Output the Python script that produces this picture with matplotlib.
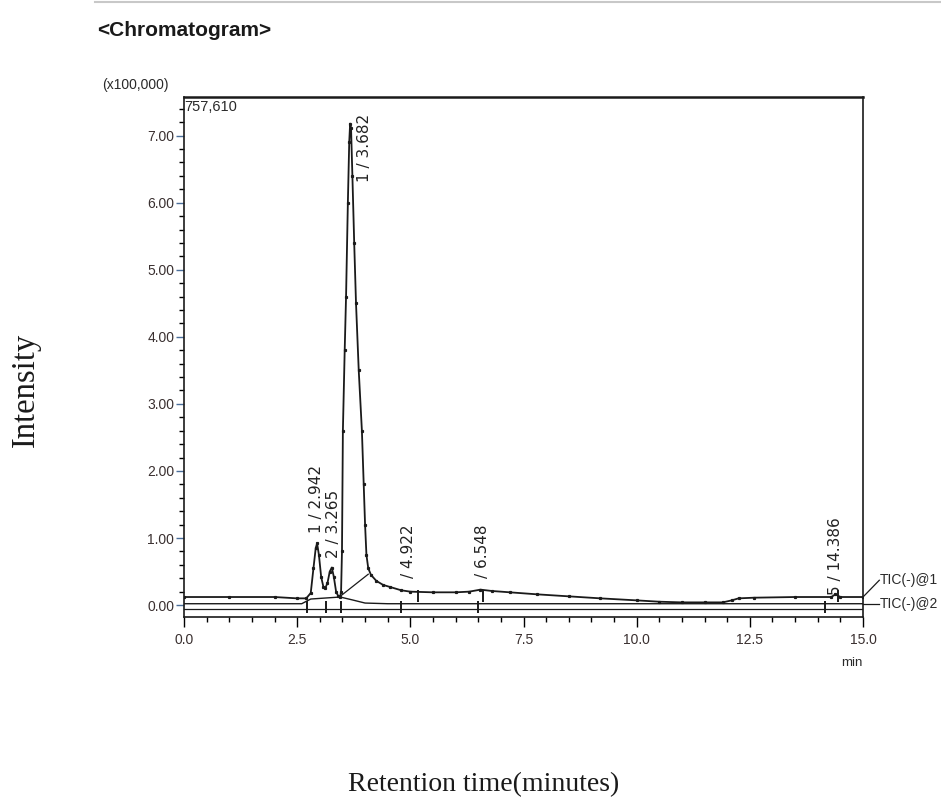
import matplotlib
matplotlib.use("Agg")
import matplotlib.pyplot as plt
from matplotlib.ticker import MultipleLocator, FixedLocator, FuncFormatter

# ---------------- data ----------------
tic1_time = [0.0, 1.0, 2.0, 2.5, 2.7, 2.8, 2.86, 2.91, 2.94, 2.98, 3.03, 3.08, 3.12,
             3.17, 3.22, 3.265, 3.31, 3.36, 3.41, 3.45, 3.47, 3.49, 3.51, 3.55, 3.58,
             3.62, 3.65, 3.67, 3.69, 3.72, 3.76, 3.80, 3.86, 3.93, 3.97, 4.00, 4.03,
             4.07, 4.13, 4.25, 4.40, 4.55, 4.80, 5.00, 5.50, 6.00, 6.30, 6.55, 6.80,
             7.20, 7.80, 8.50, 9.20, 10.0, 10.5, 11.0, 11.5, 11.9, 12.1, 12.25, 12.6,
             13.5, 14.3, 14.39, 14.5, 15.0]
tic1_int = [0.12, 0.12, 0.12, 0.10, 0.10, 0.18, 0.55, 0.85, 0.92, 0.75, 0.42, 0.27, 0.25,
            0.33, 0.50, 0.56, 0.42, 0.20, 0.13, 0.12, 0.20, 0.80, 2.60, 3.80, 4.60,
            6.00, 6.90, 7.18, 7.12, 6.40, 5.40, 4.50, 3.50, 2.60, 1.80, 1.20, 0.75,
            0.55, 0.45, 0.36, 0.30, 0.27, 0.22, 0.20, 0.19, 0.19, 0.20, 0.23, 0.21,
            0.19, 0.16, 0.13, 0.10, 0.07, 0.05, 0.04, 0.04, 0.04, 0.07, 0.10, 0.11,
            0.12, 0.12, 0.16, 0.12, 0.12]

tic2_time = [0.0, 2.6, 2.8, 3.45, 3.7, 4.0, 4.5, 15.0]
tic2_int = [0.02, 0.02, 0.09, 0.12, 0.08, 0.03, 0.02, 0.02]

zero_time = [0.0, 15.0]
zero_int = [-0.06, -0.06]

# integration baseline under main peak tail
base_time = [3.45, 4.07]
base_int = [0.13, 0.46]

# peak event marks (retention times)
event_low = [2.72, 3.13, 3.46, 4.80, 6.50, 14.16]
event_tic1 = [5.17, 6.60, 14.45]

peak_labels = ["1 / 2.942", "2 / 3.265", "1 / 3.682", "/ 4.922", "/ 6.548", "5 / 14.386"]
peak_label_x = [2.93, 3.31, 3.98, 4.95, 6.60, 14.40]
peak_label_y = [1.07, 0.70, 6.31, 0.40, 0.40, 0.15]

x_major = [0.0, 2.5, 5.0, 7.5, 10.0, 12.5, 15.0]
y_major = [0, 1, 2, 3, 4, 5, 6, 7]
y_max = 7.5761

# ---------------- figure ----------------
fig = plt.figure(figsize=(9.41, 8.02), dpi=100)
ax = fig.add_axes([184 / 941, 1 - 617 / 802, (863 - 184) / 941, (617 - 97) / 802])

narrow = ['Liberation Sans Narrow', 'Liberation Sans', 'DejaVu Sans']
sans = ['Liberation Sans', 'DejaVu Sans']
serif = ['Liberation Serif', 'DejaVu Serif']

lc = '#1a1a1a'
ax.plot(tic1_time, tic1_int, color=lc, lw=1.3, marker='s', ms=1.3, zorder=3)
ax.plot(tic2_time, tic2_int, color=lc, lw=1.0, zorder=3)
ax.plot(zero_time, zero_int, color=lc, lw=0.9, zorder=2)
ax.plot(base_time, base_int, color=lc, lw=0.9, zorder=2)
ax.vlines(event_low, -0.12, 0.06, color=lc, lw=1.4, zorder=4)
ax.vlines(event_tic1, 0.05, 0.22, color=lc, lw=1.4, zorder=4)

for lab, x, y in zip(peak_labels, peak_label_x, peak_label_y):
    ax.text(x, y, lab, rotation=90, ha='center', va='bottom', fontsize=11,
            family=['DejaVu Sans'], color='#222222', zorder=5)

ax.set_xlim(0, 15)
ax.set_ylim(-0.178, y_max)

ax.xaxis.set_major_locator(FixedLocator(x_major))
ax.xaxis.set_minor_locator(MultipleLocator(0.5))
ax.yaxis.set_major_locator(FixedLocator(y_major))
ax.yaxis.set_minor_locator(MultipleLocator(0.2))
ax.xaxis.set_major_formatter(FuncFormatter(lambda v, p: f"{v:.1f}"))
ax.yaxis.set_major_formatter(FuncFormatter(lambda v, p: f"{v:.2f}"))

ax.tick_params(axis='both', which='major', direction='out', width=1.0,
               labelsize=10, labelcolor='#3a3030')
ax.tick_params(axis='x', which='major', length=7.5, pad=4)
ax.tick_params(axis='y', which='major', color='#4a6e9a', length=6, pad=1)
ax.tick_params(axis='both', which='minor', direction='out', length=3.5, width=1.0)
for lbl in ax.get_xticklabels() + ax.get_yticklabels():
    lbl.set_family(narrow)

for s in ax.spines.values():
    s.set_linewidth(1.2)
    s.set_color('#1a1a1a')
ax.spines['top'].set_linewidth(1.8)

# texts inside / around axes
ax.text(0.005, 7.42, "757,610", ha='left', va='center', fontsize=10.5,
        family=narrow, color='#2a2a2a')
fig.text(102 / 941, 1 - 85 / 802, "(x100,000)", ha='left', va='center',
         fontsize=10, family=sans, color='#2a2a2a')
fig.text(852 / 941, 1 - 663 / 802, "min", ha='center', va='center',
         fontsize=9.5, family=sans, color='#2a2a2a')

# trace legends with leader lines
ax.plot([15.0, 15.36], [0.12, 0.37], color=lc, lw=0.9, clip_on=False)
ax.plot([15.0, 15.36], [0.02, 0.02], color=lc, lw=0.9, clip_on=False)
ax.text(15.37, 0.37, "TIC(-)@1", ha='left', va='center', fontsize=10,
        family=sans, color='#2a2a2a', clip_on=False)
ax.text(15.37, 0.02, "TIC(-)@2", ha='left', va='center', fontsize=10,
        family=sans, color='#2a2a2a', clip_on=False)

# title and axis titles
fig.text(97 / 941, 1 - 31 / 802, "<Chromatogram>", ha='left', va='center',
         fontsize=15, fontweight='bold', family=sans, color='#1a1a1a')
fig.text(26 / 941, 1 - 390 / 802, "Intensity", rotation=90, ha='center', va='center',
         fontsize=23.5, family=serif, color='#1a1a1a')
fig.text(484 / 941, 1 - 785 / 802, "Retention time(minutes)", ha='center', va='center',
         fontsize=20, family=serif, color='#1a1a1a')

# faint rule at the very top
fig.add_artist(plt.Line2D([95 / 941, 1.0], [1 - 1.5 / 802, 1 - 1.5 / 802],
                          color='#c8c8c8', lw=1.5))

fig.savefig("out.png", dpi=100)
